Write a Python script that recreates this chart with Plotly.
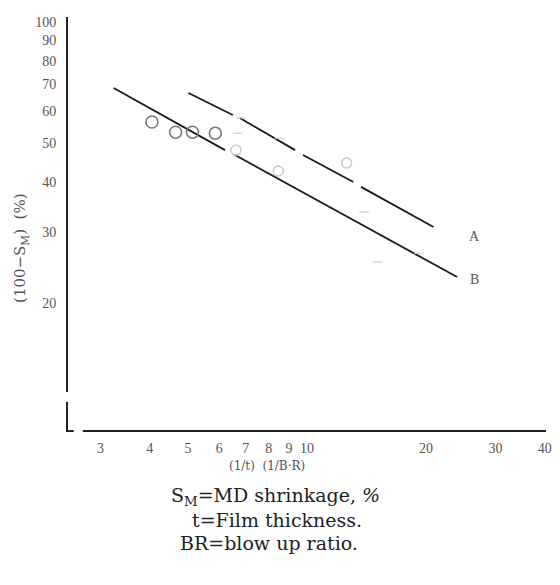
import math
import plotly.graph_objects as go

# ---- data ----
x_ticks = [3, 4, 5, 6, 7, 8, 9, 10, 20, 30, 40]
y_ticks = [20, 30, 40, 50, 60, 70, 80, 90, 100]

# fitted line A (drawn with gaps around the points)
lineA_x = [5.01, 6.49, None, 6.76, 9.33, None, 9.77, 13.1, None, 13.7, 20.9]
lineA_y = [66.6, 58.7, None, 57.7, 48.0, None, 46.7, 40.0, None, 38.9, 30.9]
# fitted line B
lineB_x = [3.24, 6.20, None, 6.57, 23.99]
lineB_y = [68.5, 48.0, None, 46.7, 23.2]

# clearly visible open circles
circ_x = [4.05, 4.65, 5.13, 5.86]
circ_y = [56.4, 53.2, 53.2, 52.9]

# faint (partly erased) marks
faint_circ_x = [6.61, 8.46, 12.6]
faint_circ_y = [48.0, 42.6, 44.6]
faint_mark_x = [6.80, 6.68, 8.51, 13.96, 19.2, 15.1]
faint_mark_y = [57.7, 52.9, 51.4, 33.7, 26.6, 25.3]

label_names = ["A", "B"]
label_x = [26.6, 26.6]
label_y = [29.2, 22.9]

SERIF = "Liberation Serif, DejaVu Serif, serif"
WIDE_SERIF = "DejaVu Serif, Liberation Serif, serif"

fig = go.Figure()
fig.add_trace(go.Scatter(x=lineA_x, y=lineA_y, mode="lines",
                         line=dict(color="#1a1a1a", width=1.8), connectgaps=False,
                         showlegend=False, hoverinfo="skip"))
fig.add_trace(go.Scatter(x=lineB_x, y=lineB_y, mode="lines",
                         line=dict(color="#1a1a1a", width=1.8), connectgaps=False,
                         showlegend=False, hoverinfo="skip"))
fig.add_trace(go.Scatter(x=circ_x, y=circ_y, mode="markers",
                         marker=dict(symbol="circle-open", size=12, color="#7a7a7a",
                                     line=dict(width=1.6)),
                         showlegend=False))
fig.add_trace(go.Scatter(x=faint_circ_x, y=faint_circ_y, mode="markers",
                         marker=dict(symbol="circle-open", size=10, color="#c8c8c8",
                                     line=dict(width=1.4)),
                         showlegend=False))
fig.add_trace(go.Scatter(x=faint_mark_x, y=faint_mark_y, mode="markers",
                         marker=dict(symbol="line-ew-open", size=7, color="#cccccc",
                                     line=dict(width=1.2)),
                         showlegend=False))

annotations = []
for n, lx, ly in zip(label_names, label_x, label_y):
    annotations.append(dict(x=math.log10(lx), y=math.log10(ly), xref="x", yref="y",
                            text=n, showarrow=False, xanchor="center", yanchor="middle",
                            font=dict(family=SERIF, size=14, color="#555555")))

# axis titles
annotations.append(dict(x=0.417, y=-0.087, xref="paper", yref="paper",
                        text="(1/t)  (1/B·R)", showarrow=False,
                        xanchor="center", yanchor="middle",
                        font=dict(family=WIDE_SERIF, size=12, color="#555555")))
annotations.append(dict(x=-0.099, y=0.44, xref="paper", yref="paper",
                        text="(100−S<sub>M</sub>)  (%)", showarrow=False, textangle=-90,
                        xanchor="center", yanchor="middle",
                        font=dict(family=WIDE_SERIF, size=15, color="#555555")))
# notes
notes = ["S<sub>M</sub>=MD shrinkage, <i>%</i>", "t=Film thickness.", "BR=blow up ratio."]
notes_x = [0.434, 0.438, 0.4215]
notes_y = [-0.162, -0.218, -0.2736]
for t, nx, ny in zip(notes, notes_x, notes_y):
    annotations.append(dict(x=nx, y=ny, xref="paper", yref="paper", text=t,
                            showarrow=False, xanchor="center", yanchor="middle",
                            font=dict(family=WIDE_SERIF, size=19, color="#222222")))

shapes = [
    # break in the y axis
    dict(type="rect", xref="paper", yref="paper", x0=-0.02, x1=0.02,
         y0=0.068, y1=0.092, fillcolor="white", line=dict(width=0), layer="above"),
    # break in the x axis near the corner
    dict(type="rect", xref="paper", yref="paper", x0=0.012, x1=0.031,
         y0=-0.02, y1=0.02, fillcolor="white", line=dict(width=0), layer="above"),
]

fig.update_layout(
    width=560, height=585,
    margin=dict(l=68, r=8, t=17, b=155),
    paper_bgcolor="white", plot_bgcolor="white",
    showlegend=False,
    annotations=annotations,
    shapes=shapes,
    xaxis=dict(type="log", range=[0.395, 1.605], tickvals=x_ticks,
               ticktext=[str(v) for v in x_ticks], showgrid=False, zeroline=False,
               showline=True, linecolor="#222222", linewidth=1.6, ticks="",
               ticklabelstandoff=4,
               tickfont=dict(family=SERIF, size=14, color="#555555")),
    yaxis=dict(type="log", range=[0.985, 2.0125], tickvals=y_ticks,
               ticktext=[str(v) for v in y_ticks], showgrid=False, zeroline=False,
               showline=True, linecolor="#222222", linewidth=2, ticks="",
               ticklabelstandoff=7,
               tickfont=dict(family=SERIF, size=14, color="#555555")),
)

fig.write_html("out.html")
